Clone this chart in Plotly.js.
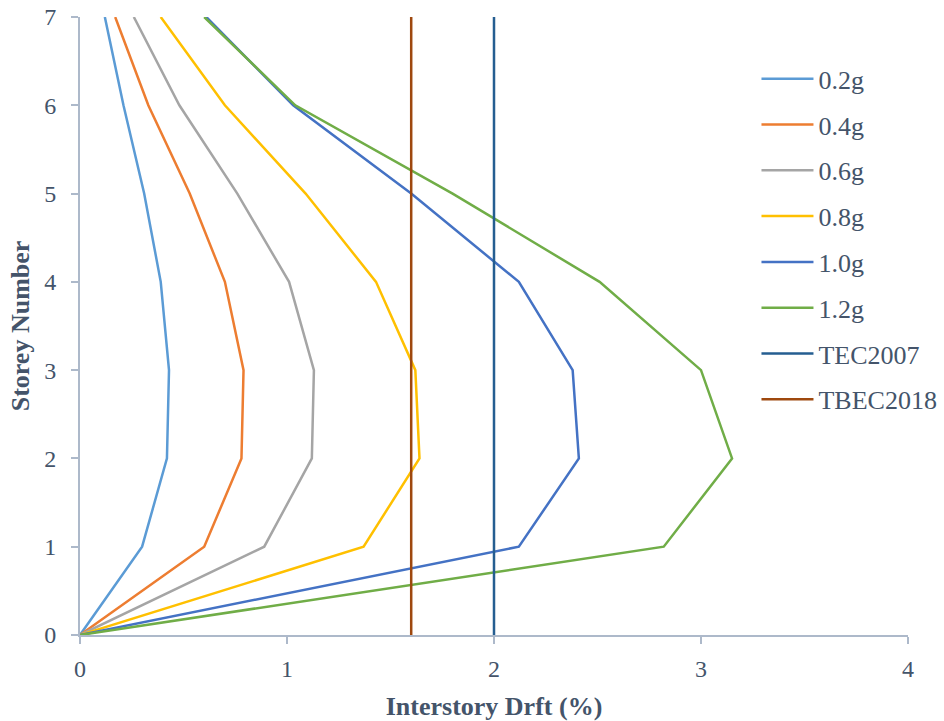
<!DOCTYPE html>
<html>
<head>
<meta charset="utf-8">
<script src="https://cdn.plot.ly/plotly-3.0.1.min.js"></script>
<style>html,body{margin:0;padding:0;background:#fff;}#chart{width:944px;height:721px;}</style>
</head>
<body>
<div id="chart"></div>
<script>
// Storey levels
var storeys = [0, 1, 2, 3, 4, 5, 6, 7];
// Interstory drift (%) per PGA level
var drift02 = [0, 0.30, 0.42, 0.43, 0.39, 0.31, 0.21, 0.12];
var drift04 = [0, 0.60, 0.78, 0.79, 0.70, 0.53, 0.33, 0.17];
var drift06 = [0, 0.89, 1.12, 1.13, 1.01, 0.76, 0.48, 0.26];
var drift08 = [0, 1.37, 1.64, 1.62, 1.43, 1.09, 0.70, 0.39];
var drift10 = [0, 2.12, 2.41, 2.38, 2.12, 1.60, 1.03, 0.61];
var drift12 = [0, 2.82, 3.15, 3.00, 2.51, 1.80, 1.04, 0.60];
// Code limits
var limitTEC2007 = 2.0;
var limitTBEC2018 = 1.6;
var limitY = [0, 7];

var names = ['0.2g', '0.4g', '0.6g', '0.8g', '1.0g', '1.2g', 'TEC2007', 'TBEC2018'];
var colors = ['#5B9BD5', '#ED7D31', '#A5A5A5', '#FFC000', '#4472C4', '#70AD47', '#255E91', '#9E480E'];
var series = [drift02, drift04, drift06, drift08, drift10, drift12];

var traces = [];
series.forEach(function (s, i) {
  traces.push({x: s, y: storeys, type: 'scatter', mode: 'lines', name: names[i], legendgroup: 'g' + i,
    line: {color: colors[i], width: 2.5}});
});
traces.push({x: [limitTEC2007, limitTEC2007], y: limitY, type: 'scatter', mode: 'lines', name: names[6], legendgroup: 'g6',
  line: {color: colors[6], width: 2.5}});
traces.push({x: [limitTBEC2018, limitTBEC2018], y: limitY, type: 'scatter', mode: 'lines', name: names[7], legendgroup: 'g7',
  line: {color: colors[7], width: 2.5}});

var txt = '#44546A';
var axisCol = '#ADB9CA';
var layout = {
  width: 944, height: 721,
  margin: {l: 80, r: 36, t: 17, b: 86, autoexpand: false},
  paper_bgcolor: '#fff', plot_bgcolor: '#fff',
  font: {family: '"Liberation Serif", "Times New Roman", serif', color: txt},
  showlegend: true,
  legend: {x: 0.817, xanchor: 'left', y: 0.938, yanchor: 'top', bgcolor: 'rgba(0,0,0,0)',
    font: {size: 26, color: txt}, tracegroupgap: 9, itemwidth: 52},
  xaxis: {range: [0, 4], dtick: 1, showgrid: false, zeroline: false, showline: true, linecolor: axisCol, linewidth: 2,
    ticks: 'outside', ticklen: 7, tickwidth: 2, tickcolor: axisCol, tickfont: {size: 24, color: txt},
    ticklabelstandoff: 4,
    title: {text: '<b>Interstory Drft (%)</b>', font: {size: 26, color: txt}, standoff: 20}},
  yaxis: {range: [0, 7], dtick: 1, showgrid: false, zeroline: false, showline: true, linecolor: axisCol, linewidth: 2,
    ticks: 'outside', ticklen: 7, tickwidth: 2, tickcolor: axisCol, tickfont: {size: 24, color: txt},
    ticklabelstandoff: 10,
    title: {text: '<b>Storey Number</b>', font: {size: 26, color: txt}, standoff: 7}}
};
Plotly.newPlot('chart', traces, layout, {displayModeBar: false, staticPlot: true});
</script>
</body>
</html>
